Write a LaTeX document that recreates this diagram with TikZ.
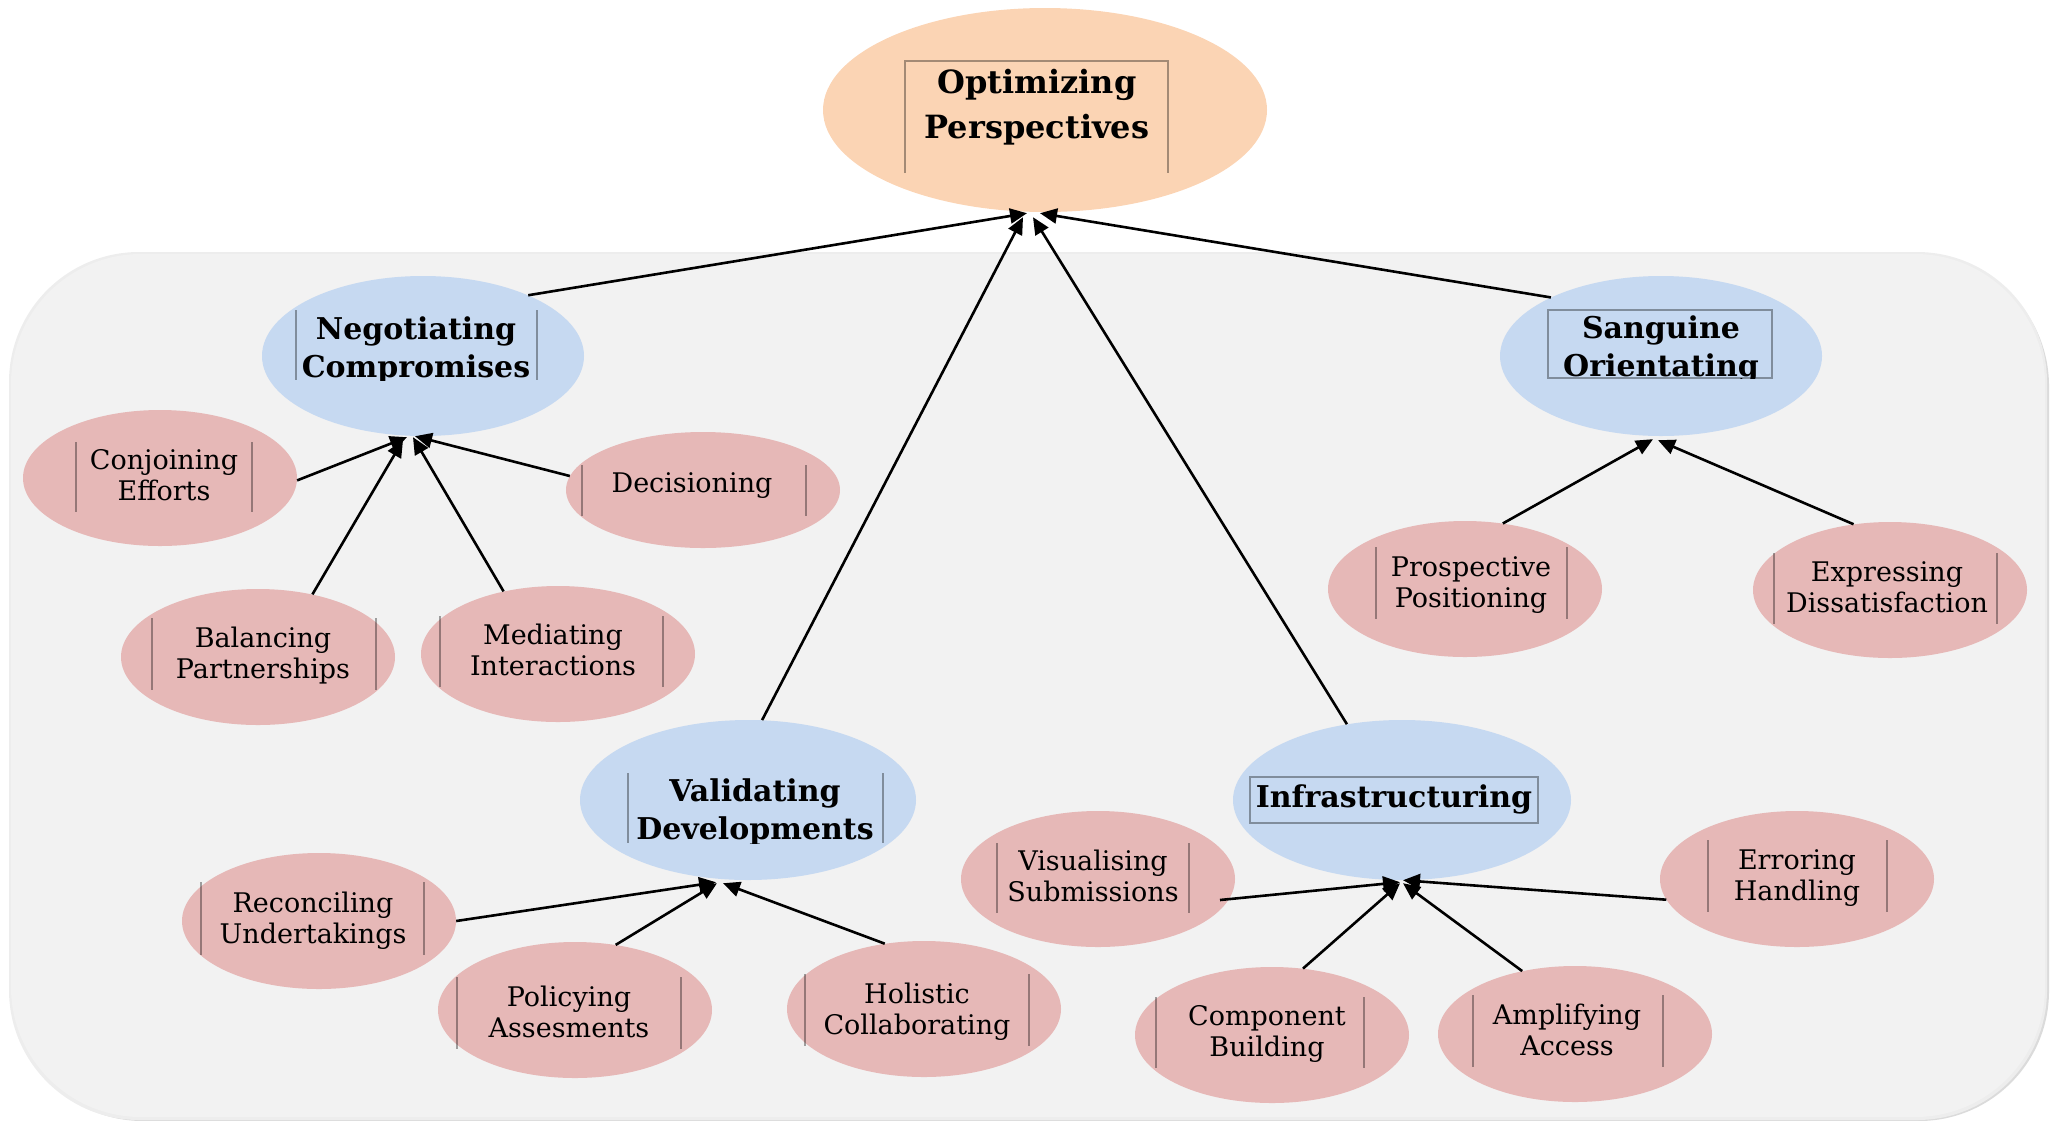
\documentclass[tikz,border=0pt]{standalone}
\usepackage{fontspec}
\setmainfont{DejaVu Serif}
\usetikzlibrary{arrows.meta,shapes.geometric}

\definecolor{panelgray}{HTML}{F2F2F2}
\definecolor{peach}{HTML}{FBD4B4}
\definecolor{lightblue}{HTML}{C6D9F1}
\definecolor{rose}{HTML}{E6B8B7}

% text nodes are anchored at the baseline of their last line
\tikzset{
  rootell/.style={ellipse, fill=peach, inner sep=0pt, minimum width=444pt, minimum height=204pt},
  midell/.style={ellipse, fill=lightblue, inner sep=0pt, minimum width=322pt, minimum height=160pt},
  leafell/.style={ellipse, fill=rose, inner sep=0pt, minimum width=274pt, minimum height=136pt},
  roottxt/.style={anchor=base, align=center, inner sep=0pt,
    font=\fontsize{32}{45}\selectfont\bfseries},
  midtxt/.style={anchor=base, align=center, inner sep=0pt,
    font=\fontsize{30}{38}\selectfont\bfseries},
  leaftxt/.style={anchor=base, align=center, inner sep=0pt,
    font=\fontsize{27}{31}\selectfont},
  boxln/.style={draw=black, draw opacity=0.35, line width=1.2pt},
  arr/.style={draw=black, line width=2.6pt, -{Triangle[length=17pt,width=15pt]}},
}

\begin{document}
\begin{tikzpicture}[x=1pt,y=-1pt]
\useasboundingbox (0,0) rectangle (2060,1120);

% grey panel with soft shadow
\fill[black!14, rounded corners=130pt] (13,256) rectangle (2049,1121);
\fill[black!7, rounded corners=130pt] (9,252) rectangle (2047,1120);
\fill[panelgray, rounded corners=130pt] (11,254) rectangle (2045,1117);

% ellipses
\node[rootell] (top) at (1045,110) {};
\node[midell] (neg) at (423,356) {};
\node[midell] (san) at (1661,356) {};
\node[midell, minimum width=336pt] (val) at (748,800) {};
\node[midell, minimum width=338pt] (inf) at (1402,800) {};

\node[leafell] (conj) at (160,478) {};
\node[leafell, minimum height=116pt] (dec) at (703,490) {};
\node[leafell] (bal) at (258,657) {};
\node[leafell] (med) at (558,654) {};
\node[leafell] (pros) at (1465,589) {};
\node[leafell] (expr) at (1890,590) {};
\node[leafell] (rec) at (319,921) {};
\node[leafell] (pol) at (575,1010) {};
\node[leafell] (hol) at (924,1009) {};
\node[leafell] (vis) at (1098,879) {};
\node[leafell] (err) at (1797,879) {};
\node[leafell] (comp) at (1272,1035) {};
\node[leafell] (amp) at (1575,1034) {};

% root label
\draw[boxln] (905,173) -- (905,61) -- (1168,61) -- (1168,173);
\node[roottxt] (toptxt) at (1037,138) {Optimizing\\Perspectives};

% category labels (text boxes clip their last line)
\begin{scope}
  \clip (296,300) rectangle (537,380);
  \node[midtxt] (negtxt) at (416,377) {Negotiating\\Compromises};
\end{scope}
\draw[boxln] (296,310) -- (296,380) (537,310) -- (537,380);

\begin{scope}
  \clip (1548,300) rectangle (1772,378);
  \node[midtxt] (santxt) at (1661,376) {Sanguine\\Orientating};
\end{scope}
\draw[boxln] (1548,310) rectangle (1772,378);

\begin{scope}
  \clip (628,760) rectangle (883,843);
  \node[midtxt] (valtxt) at (755,839) {Validating\\Developments};
\end{scope}
\draw[boxln] (628,773) -- (628,843) (883,773) -- (883,843);

\node[midtxt] (inftxt) at (1394,807) {Infrastructuring};
\draw[boxln] (1250,777) rectangle (1538,823);

% leaf labels
\node[leaftxt] (conjtxt) at (164,500) {Conjoining\\Efforts};
\draw[boxln] (76,442) -- (76,512) (252,442) -- (252,512);
\node[leaftxt] (dectxt) at (692,492) {Decisioning};
\draw[boxln] (582,465) -- (582,516) (806,465) -- (806,516);
\node[leaftxt] (baltxt) at (263,678) {Balancing\\Partnerships};
\draw[boxln] (152,618) -- (152,690) (376,618) -- (376,690);
\node[leaftxt] (medtxt) at (553,675) {Mediating\\Interactions};
\draw[boxln] (440,616) -- (440,687) (663,616) -- (663,687);
\node[leaftxt] (prostxt) at (1471,607) {Prospective\\Positioning};
\draw[boxln] (1376,547) -- (1376,619) (1567,547) -- (1567,619);
\node[leaftxt] (exprtxt) at (1887,612) {Expressing\\Dissatisfaction};
\draw[boxln] (1774,553) -- (1774,624) (1997,553) -- (1997,624);
\node[leaftxt] (rectxt) at (313,943) {Reconciling\\Undertakings};
\draw[boxln] (201,882) -- (201,955) (424,882) -- (424,955);
\node[leaftxt] (poltxt) at (569,1037) {Policying\\Assesments};
\draw[boxln] (457,977) -- (457,1049) (681,977) -- (681,1049);
\node[leaftxt] (holtxt) at (917,1034) {Holistic\\Collaborating};
\draw[boxln] (805,974) -- (805,1046) (1029,974) -- (1029,1046);
\node[leaftxt] (vistxt) at (1093,901) {Visualising\\Submissions};
\draw[boxln] (997,843) -- (997,913) (1189,843) -- (1189,913);
\node[leaftxt] (errtxt) at (1797,900) {Erroring\\Handling};
\draw[boxln] (1708,840) -- (1708,912) (1887,840) -- (1887,912);
\node[leaftxt] (comptxt) at (1267,1056) {Component\\Building};
\draw[boxln] (1156,997) -- (1156,1068) (1364,997) -- (1364,1068);
\node[leaftxt] (amptxt) at (1567,1055) {Amplifying\\Access};
\draw[boxln] (1473,995) -- (1473,1067) (1663,995) -- (1663,1067);

% connectors to the root
\draw[arr] (neg.30.6) -- ([shift={(-18,1)}]top.south);
\draw[arr] (val.80.8) -- ([shift={(-22,5)}]top.south);
\draw[arr] (inf.126.5) -- ([shift={(-12,5)}]top.south);
\draw[arr] (san.152.4) -- ([shift={(-5,1)}]top.south);

% connectors to Negotiating Compromises
\draw[arr] (conj.-1) -- ([shift={(-16,1)}]neg.south);
\draw[arr] (dec.174.9) -- ([shift={(-8,0)}]neg.south);
\draw[arr] (bal.49.7) -- ([shift={(-20,4)}]neg.south);
\draw[arr] (med.131.1) -- ([shift={(-10,1)}]neg.south);

% connectors to Sanguine Orientating
\draw[arr] (pros.60) -- ([shift={(-8,3)}]san.south);
\draw[arr] (expr.119.6) -- ([shift={(-3,4)}]san.south);

% connectors to Validating Developments
\draw[arr] (rec.0) -- ([shift={(-32,2)}]val.south);
\draw[arr] (pol.58.4) -- ([shift={(-31,3)}]val.south);
\draw[arr] (hol.121.1) -- ([shift={(-25,3)}]val.south);

% connectors to Infrastructuring
\draw[arr] ([shift={(122,21)}]vis.center) -- ([shift={(-2,2)}]inf.south);
\draw[arr] (err.189) -- ([shift={(1,0)}]inf.south);
\draw[arr] (comp.65.9) -- ([shift={(-2,3)}]inf.south);
\draw[arr] (amp.130.2) -- ([shift={(1,3)}]inf.south);
\end{tikzpicture}
\end{document}
